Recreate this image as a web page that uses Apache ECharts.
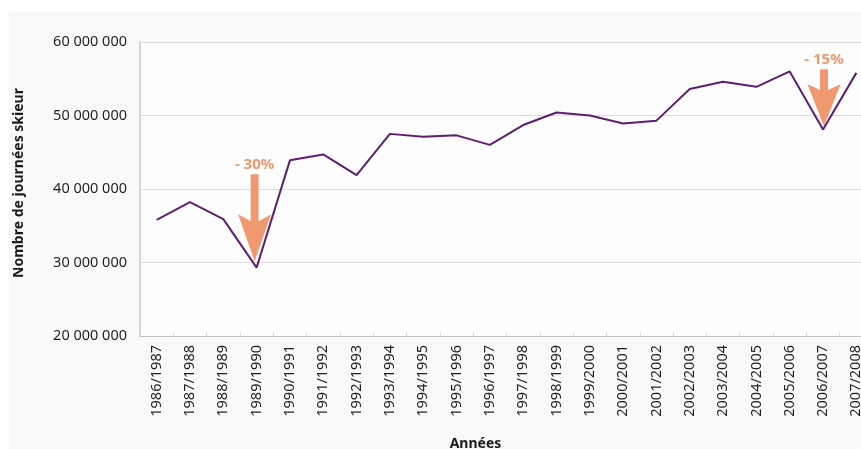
<!DOCTYPE html>
<html>
<head>
<meta charset="utf-8">
<script src="https://cdn.jsdelivr.net/npm/echarts@6/dist/echarts.min.js"></script>
<style>
  html, body { margin: 0; padding: 0; background: #ffffff; }
  #chart { width: 861px; height: 449px; }
</style>
</head>
<body>
<div id="chart"></div>
<script>
// saisons
const seasons = [
  '1986/1987', '1987/1988', '1988/1989', '1989/1990', '1990/1991', '1991/1992',
  '1992/1993', '1993/1994', '1994/1995', '1995/1996', '1996/1997', '1997/1998',
  '1998/1999', '1999/2000', '2000/2001', '2001/2002', '2002/2003', '2003/2004',
  '2004/2005', '2005/2006', '2006/2007', '2007/2008'
]
// journées skieur
const skierDays = [
  35800000, 38200000, 35900000, 29300000, 43900000, 44700000,
  41900000, 47500000, 47100000, 47300000, 46000000, 48700000,
  50400000, 50000000, 48900000, 49300000, 53600000, 54600000,
  53900000, 56000000, 48100000, 55800000
]
// annotations de baisse
const dropSeasons = ['1989/1990', '2006/2007']
const dropLabels = ['- 30%', '- 15%']
const dropArrowAt = [36100000, 52400000]

const yTicks = { min: 20000000, max: 60000000, step: 10000000 }

const fmt = function (v) {
  return String(v).replace(/\B(?=(\d{3})+(?!\d))/g, ' ')
}

const arrowShapes = [
  { path: 'path://M38,0 L62,0 L62,54 L100,46 L50,100 L0,46 L38,54 Z', size: [33, 87], offset: [-2, 0] },
  { path: 'path://M38,0 L62,0 L62,36 L100,26 L50,100 L0,26 L38,36 Z', size: [33, 57], offset: [1, 0] }
]

const myChart = echarts.init(document.getElementById('chart'))
myChart.setOption({
  backgroundColor: '#ffffff',
  textStyle: { fontFamily: 'Noto Sans' },
  graphic: [{
    type: 'rect',
    z: -10,
    silent: true,
    shape: { x: 9, y: 12, width: 852, height: 437 },
    style: { fill: '#f9f9f9' }
  }],
  grid: {
    left: 140,
    top: 42,
    width: 733,
    bottom: 113,
    outerBoundsMode: 'none',
    containLabel: false,
    show: true,
    backgroundColor: '#fdfdfd',
    borderWidth: 0
  },
  xAxis: {
    type: 'category',
    data: seasons,
    boundaryGap: true,
    name: 'Années',
    nameLocation: 'middle',
    nameGap: 101,
    nameTextStyle: { fontWeight: 'bold', fontSize: 14, color: '#1a1a1a', padding: [0, 62, 0, 0] },
    axisLine: { lineStyle: { color: '#c4c4c4', width: 1 } },
    axisTick: { show: true, inside: true, length: 4, lineStyle: { color: '#dadada' } },
    axisLabel: { rotate: 90, margin: 9, fontSize: 14.5, color: '#1f1f1f', interval: 0 },
    splitLine: { show: false }
  },
  yAxis: {
    type: 'value',
    min: yTicks.min,
    max: yTicks.max,
    interval: yTicks.step,
    name: 'Nombre de journées skieur',
    nameLocation: 'middle',
    nameGap: 114,
    nameRotate: 90,
    nameTextStyle: { fontWeight: 'bold', fontSize: 14, color: '#1a1a1a', padding: [0, 0, 0, 12] },
    axisLine: { show: true, lineStyle: { color: '#c8c8c8', width: 1.5 } },
    axisTick: { show: false },
    axisLabel: { margin: 13, fontSize: 14.5, color: '#1f1f1f', formatter: fmt },
    splitLine: { lineStyle: { color: '#dcdcdc', width: 1.2 } }
  },
  series: [{
    name: 'Journées skieur',
    type: 'line',
    data: skierDays,
    symbol: 'none',
    smooth: false,
    lineStyle: { color: '#5e1f72', width: 2 },
    z: 3,
    markPoint: {
      z: 2,
      silent: true,
      data: dropSeasons.map(function (s, i) {
        return {
          coord: [s, dropArrowAt[i]],
          symbol: arrowShapes[i].path,
          symbolSize: arrowShapes[i].size,
          symbolOffset: arrowShapes[i].offset,
          symbolKeepAspect: false,
          itemStyle: { color: '#f0986f' },
          label: {
            show: true,
            position: 'top',
            distance: 2,
            formatter: dropLabels[i],
            color: '#f0986f',
            fontWeight: 'bold',
            fontSize: 15
          }
        }
      })
    }
  }]
})
</script>
</body>
</html>
